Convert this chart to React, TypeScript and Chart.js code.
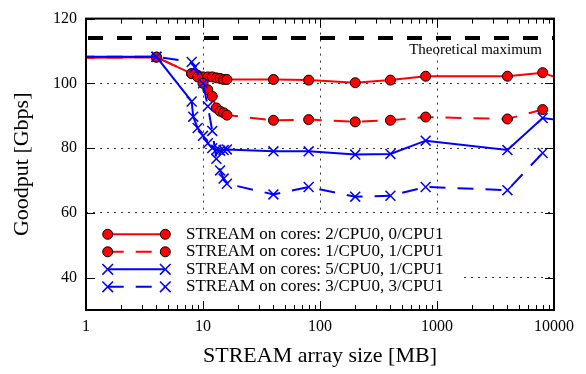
import React, { useEffect, useRef } from 'react';
import { Chart, registerables } from 'chart.js';

Chart.register(...registerables);

// ---------- data ----------
const X_TICKS = [1, 10, 100, 1000, 10000];
const Y_TICKS = [40, 60, 80, 100, 120];
const X_GRID = [10, 100, 1000];
const Y_GRID = [40, 60, 80, 100];

const THEORY_VALUE = 114;
const THEORY_LABEL = 'Theoretical maximum';
const X_TITLE = 'STREAM array size [MB]';
const Y_TITLE = 'Goodput [Gbps]';

const LABELS = [
  'STREAM on cores: 2/CPU0, 0/CPU1',
  'STREAM on cores: 1/CPU0, 1/CPU1',
  'STREAM on cores: 5/CPU0, 1/CPU1',
  'STREAM on cores: 3/CPU0, 3/CPU1',
];

const redSolidX = [0.5, 4, 8, 9, 10, 11, 12, 13, 14, 15, 16, 40, 80, 200, 400, 800, 4000, 8000, 16000];
const redSolidY = [107.8, 108.1, 103, 102.5, 102, 102, 102, 101.7, 101.5, 101.2, 101.2, 101.2, 101.0, 100.2, 101.0, 102.2, 102.2, 103.3, 99.4];

const redDashX = [0.5, 4, 8, 9, 10, 11, 12, 13, 14, 15, 16, 40, 80, 200, 400, 800, 4000, 8000];
const redDashY = [107.8, 108.1, 103, 102, 100, 98, 96, 92.4, 91.4, 90.9, 90.2, 88.6, 88.8, 88.1, 88.6, 89.6, 89.0, 91.9];

const blueSolidX = [0.5, 4, 8, 8.25, 9, 10, 11, 12, 13, 14, 15, 16, 40, 80, 200, 400, 800, 4000, 8000, 16000];
const blueSolidY = [108.2, 108.2, 94.4, 89.7, 86.2, 83.8, 81.5, 80, 79.5, 79.2, 79.4, 79.6, 79.0, 79.0, 78.0, 78.2, 82.3, 79.4, 89.3, 87.8];

const blueDashX = [0.5, 4, 8, 8.5, 10, 11, 12, 13, 14, 15, 16, 40, 80, 200, 400, 800, 4000, 8000, 16000];
const blueDashY = [108.2, 108.2, 106.6, 105, 100, 92.9, 85.3, 76.7, 73.1, 70.6, 69.0, 65.7, 68.0, 65.0, 65.3, 68.0, 67.0, 78.5, 80.8];

// ---------- styles ----------
const SERIF = '"Liberation Serif", "Times New Roman", serif';
const RED = '#ff0000';
const BLUE = '#0000ff';
const DASH = [16, 12];

type Series = { label: string; xs: number[]; ys: number[]; color: string; dashed: boolean; marker: 'circle' | 'cross' };

const SERIES: Series[] = [
  { label: LABELS[0], xs: redSolidX, ys: redSolidY, color: RED, dashed: false, marker: 'circle' },
  { label: LABELS[1], xs: redDashX, ys: redDashY, color: RED, dashed: true, marker: 'circle' },
  { label: LABELS[2], xs: blueSolidX, ys: blueSolidY, color: BLUE, dashed: false, marker: 'cross' },
  { label: LABELS[3], xs: blueDashX, ys: blueDashY, color: BLUE, dashed: true, marker: 'cross' },
];

function drawMarker(ctx: CanvasRenderingContext2D, s: Series, x: number, y: number) {
  ctx.save();
  ctx.setLineDash([]);
  if (s.marker === 'circle') {
    ctx.beginPath();
    ctx.arc(x, y, 5, 0, Math.PI * 2);
    ctx.fillStyle = s.color;
    ctx.fill();
    ctx.lineWidth = 1;
    ctx.strokeStyle = '#000';
    ctx.stroke();
  } else {
    const d = 7.5 * Math.SQRT1_2;
    ctx.beginPath();
    ctx.moveTo(x - d, y - d);
    ctx.lineTo(x + d, y + d);
    ctx.moveTo(x - d, y + d);
    ctx.lineTo(x + d, y - d);
    ctx.lineWidth = 1.5;
    ctx.strokeStyle = s.color;
    ctx.stroke();
  }
  ctx.restore();
}

const decorPlugin = {
  id: 'decor',
  afterDraw(chart: any) {
    const { ctx, chartArea: a, scales } = chart;
    const xs = scales.x;
    const ys = scales.y;
    ctx.save();

    // theoretical maximum label
    ctx.font = `15px ${SERIF}`;
    ctx.fillStyle = '#000';
    ctx.textAlign = 'right';
    ctx.textBaseline = 'middle';
    ctx.fillText(THEORY_LABEL, a.right - 12, ys.getPixelForValue(THEORY_VALUE) + 12);

    // legend box (opaque)
    const boxTop = a.bottom - 95;
    ctx.fillStyle = '#fff';
    ctx.fillRect(a.left + 1, boxTop, 373, a.bottom - boxTop - 1);

    // frame
    ctx.strokeStyle = '#000';
    ctx.lineWidth = 2;
    ctx.strokeRect(a.left, a.top, a.right - a.left, a.bottom - a.top);

    // ticks (inward, mirrored)
    ctx.lineWidth = 1;
    ctx.beginPath();
    Y_TICKS.forEach((v) => {
      const p = Math.round(ys.getPixelForValue(v)) + 0.5;
      ctx.moveTo(a.left, p); ctx.lineTo(a.left + 9, p);
      ctx.moveTo(a.right, p); ctx.lineTo(a.right - 9, p);
    });
    for (let d = 0; d < 4; d++) {
      for (let k = 1; k <= 9; k++) {
        const v = k * Math.pow(10, d);
        if (v <= 1 || v >= 10000) continue;
        const len = k === 1 ? 9 : 5;
        const p = Math.round(xs.getPixelForValue(v)) + 0.5;
        ctx.moveTo(p, a.bottom); ctx.lineTo(p, a.bottom - len);
        ctx.moveTo(p, a.top); ctx.lineTo(p, a.top + len);
      }
    }
    ctx.stroke();

    // legend entries
    ctx.font = `17px ${SERIF}`;
    ctx.textAlign = 'left';
    ctx.textBaseline = 'middle';
    SERIES.forEach((s, i) => {
      const yy = a.bottom - 75.7 + i * 17.5;
      const x1 = a.left + 21.7;
      const x2 = a.left + 79.3;
      ctx.save();
      ctx.strokeStyle = s.color;
      ctx.lineWidth = 2;
      ctx.setLineDash(s.dashed ? DASH : []);
      ctx.beginPath();
      ctx.moveTo(x1, yy);
      ctx.lineTo(x2, yy);
      ctx.stroke();
      ctx.restore();
      drawMarker(ctx, s, x1, yy);
      drawMarker(ctx, s, x2, yy);
      ctx.fillStyle = '#000';
      ctx.fillText(s.label, a.left + 100, yy);
    });

    ctx.restore();
  },
};

export default function App() {
  const ref = useRef<HTMLCanvasElement | null>(null);

  useEffect(() => {
    document.body.style.margin = '0';
    if (!ref.current) return;

    const datasets: any[] = SERIES.map((s, i) => ({
      label: s.label,
      data: s.xs.map((x, j) => ({ x, y: s.ys[j] })),
      borderColor: s.color,
      backgroundColor: s.color,
      borderWidth: 2,
      borderDash: s.dashed ? DASH : [],
      pointStyle: s.marker === 'circle' ? 'circle' : 'crossRot',
      pointRadius: s.marker === 'circle' ? 5 : 7,
      pointBackgroundColor: s.color,
      pointBorderColor: s.marker === 'circle' ? '#000' : s.color,
      pointBorderWidth: s.marker === 'circle' ? 1 : 1.5,
      tension: 0,
      fill: false,
      clip: 0,
      order: 4 - i,
    }));
    datasets.push({
      label: THEORY_LABEL,
      data: [{ x: 1, y: THEORY_VALUE }, { x: 10000, y: THEORY_VALUE }],
      borderColor: '#000',
      borderWidth: 4,
      borderDash: [15, 14],
      borderDashOffset: -2,
      pointRadius: 0,
      fill: false,
      clip: 0,
      order: 5,
    });

    const tickFont = { family: SERIF, size: 16 };
    const titleFont = { family: SERIF, size: 22 };

    const chart = new Chart(ref.current, {
      type: 'line',
      data: { datasets },
      options: {
        responsive: false,
        animation: false,
        devicePixelRatio: 1,
        layout: { padding: { left: 0, top: 14, right: 32, bottom: 0 } },
        plugins: { legend: { display: false }, tooltip: { enabled: false } },
        scales: {
          x: {
            type: 'logarithmic',
            min: 1,
            max: 10000,
            afterBuildTicks: (scale: any) => {
              scale.ticks = X_TICKS.map((v) => ({ value: v }));
            },
            afterFit: (scale: any) => {
              scale.height = 64;
            },
            ticks: {
              font: tickFont,
              color: '#000',
              padding: 7,
              maxRotation: 0,
              autoSkip: false,
              callback: (v: any) => String(Number(v)),
            },
            grid: {
              drawTicks: false,
              lineWidth: 1,
              color: (c: any) => (c.tick && X_GRID.includes(c.tick.value) ? '#333' : 'rgba(0,0,0,0)'),
            },
            border: { display: false, dash: [2, 5] },
            title: { display: true, text: X_TITLE, font: titleFont, color: '#000', padding: { top: 0, bottom: 5 } },
          },
          y: {
            type: 'linear',
            min: 30,
            max: 120,
            afterBuildTicks: (scale: any) => {
              scale.ticks = Y_TICKS.map((v) => ({ value: v }));
            },
            afterFit: (scale: any) => {
              scale.width = 86;
            },
            ticks: { font: tickFont, color: '#000', padding: 9 },
            grid: {
              drawTicks: false,
              lineWidth: 1,
              color: (c: any) => (c.tick && Y_GRID.includes(c.tick.value) ? '#333' : 'rgba(0,0,0,0)'),
            },
            border: { display: false, dash: [2, 5] },
            title: { display: true, text: Y_TITLE, font: titleFont, color: '#000', padding: { top: 9, bottom: 0 } },
          },
        },
      } as any,
      plugins: [decorPlugin],
    });

    return () => chart.destroy();
  }, []);

  return (
    <div style={{ width: 586, height: 374 }}>
      <canvas ref={ref} width={586} height={374} style={{ display: 'block' }} />
    </div>
  );
}
